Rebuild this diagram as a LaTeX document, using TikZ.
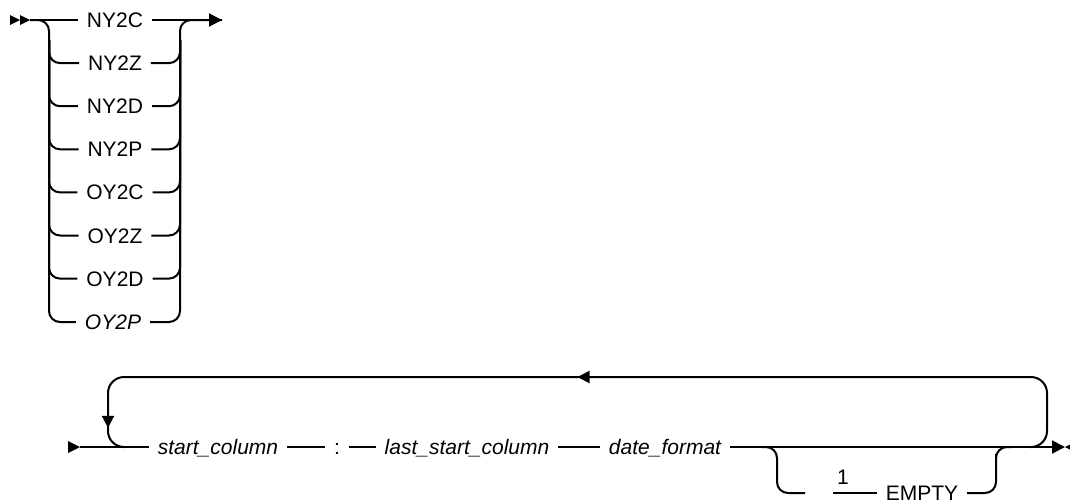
\documentclass[tikz,border=0pt]{standalone}
\usepackage{fontspec}
\setmainfont{Liberation Sans}
\usetikzlibrary{arrows.meta,decorations.markings}

\begin{document}
\begin{tikzpicture}[x=0.5pt,y=-0.5pt,line width=1pt,
  kw/.style={inner xsep=4pt,inner ysep=0pt,text height=7.5pt,text depth=0pt,font=\fontsize{10.5}{12}\selectfont},
  var/.style={kw,font=\fontsize{10.5}{12}\selectfont\itshape},
  tip/.style={-{Triangle[length=6.5pt,width=6.5pt]}},
  rail/.style={rounded corners=5.5pt},
  loop/.style={rounded corners=8pt,postaction={decorate},
    decoration={markings,
      mark=at position 0.5 with {\arrow{Triangle[length=6pt,width=6pt]}},
      mark=at position 0.973 with {\arrow{Triangle[length=6pt,width=6pt]}}}}]
  \useasboundingbox (0,0) rectangle (1070,500);

  % first block: one keyword out of the list
  \fill (10,15) -- (20,20) -- (10,25) -- cycle;
  \fill (20,15) -- (30,20) -- (20,25) -- cycle;
  \coordinate (st) at (30,20);
  \coordinate (lr) at (49,40);
  \coordinate (rr) at (180,40);
  \coordinate (e1) at (222,20);
  \foreach \name/\txt [count=\i from 0] in {ny2c/NY2C,ny2z/NY2Z,ny2d/NY2D,ny2p/NY2P,oy2c/OY2C,oy2z/OY2Z,oy2d/OY2D}
    \node[kw] (\name) at (115,20+43.1*\i) {\txt};
  \node[var] (oy2p) at (113,322) {OY2P};

  \draw (st) -- (ny2c);
  \draw[rail] (st) -| (lr);
  \foreach \name in {ny2z,ny2d,ny2p,oy2c,oy2z,oy2d,oy2p}{
    \draw[rail] (lr) |- (\name.west);
    \draw[rail] (\name.east) -| (rr);
  }
  \draw[tip] (ny2c) -- (e1);
  \draw[rail] (rr) |- (e1);

  % second block: repeated column/format groups
  \fill (68,441) -- (80,447) -- (68,453) -- cycle;
  \coordinate (in2) at (80,447);
  \node[var] (scol) at (218,447) {start\_column};
  \node[kw] (colon) at (337,447) {:};
  \node[var] (lscol) at (467,447) {last\_start\_column};
  \node[var] (dfmt) at (665,447) {date\_format};
  \coordinate (out2) at (1065,447);

  \draw (in2) -- (scol);
  \draw (scol) -- (colon);
  \draw (colon) -- (lscol);
  \draw (lscol) -- (dfmt);
  \draw[tip] (dfmt) -- (out2);
  \fill (1065,447) -- (1077,441) -- (1077,453) -- cycle;

  % repeat loop
  \coordinate (rpr) at (1030,447);
  \coordinate (rpl) at (125,447);
  \draw[loop] (rpr) -| (1047,377) -| (108,447) -- (rpl);

  % optional EMPTY with footnote 1
  \coordinate (ob) at (762,447);
  \coordinate (g1) at (805,493);
  \coordinate (g2) at (833,493);
  \coordinate (oj) at (1012,447);
  \node[kw] (one) at (843,477) {1};
  \node[kw] (empty) at (922,493) {EMPTY};
  \draw[rail] (ob) -| (777,493) -- (g1);
  \draw (g2) -- (empty);
  \draw[rail] (empty) -| (996,465) |- (oj);
\end{tikzpicture}
\end{document}
